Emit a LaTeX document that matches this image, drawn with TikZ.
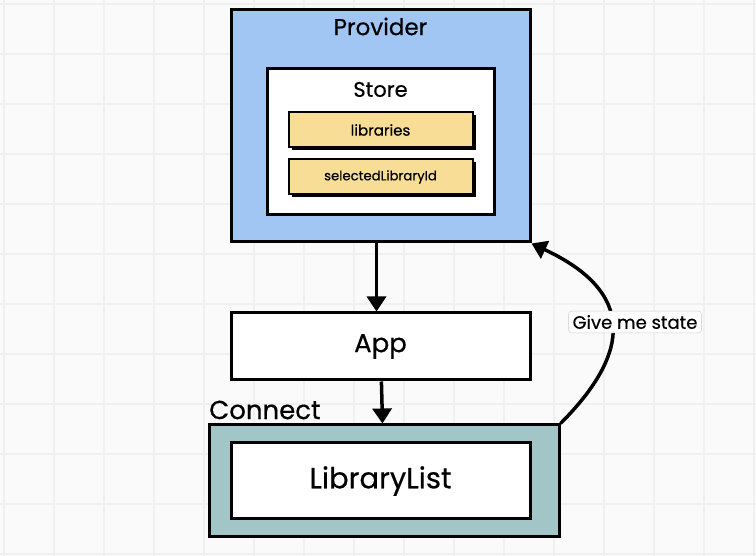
\documentclass[tikz,border=0pt]{standalone}
\usepackage{fontspec}
\setmainfont{Poppins}[UprightFeatures={FakeBold=0.5}]
\usepackage{xcolor}
\usepackage{tikz}
\usetikzlibrary{arrows.meta, positioning, shadows}

\definecolor{providerblue}{HTML}{A2C6F3}
\definecolor{connectteal}{HTML}{A2C5C7}
\definecolor{fieldyellow}{HTML}{F8DD96}
\definecolor{gridgray}{HTML}{F0F0F0}

\begin{document}
\begin{tikzpicture}[x=1pt, y=1pt]
\tikzstyle{box} = [rectangle, draw, line width=3pt, inner sep=0pt]
\tikzstyle{field} = [rectangle, draw, line width=2pt, fill=fieldyellow, minimum width=184pt, minimum height=35pt, font=\fontsize{14}{16}\selectfont, general shadow={fill=black, shadow xshift=3pt, shadow yshift=-3pt}]
\tikzstyle{title} = [inner sep=0pt, font=\fontsize{21}{24}\selectfont]
\tikzstyle{big} = [inner sep=0pt, font=\fontsize{26}{30}\selectfont]
\tikzstyle{flow} = [line width=3.5pt, -{Triangle[length=15pt, width=19pt]}]

% background grid
\fill[white!98!black] (0,0) rectangle (756,556);
\useasboundingbox (0,0) rectangle (756,556);
\foreach \g in {4,54,...,754} {
  \draw[gridgray, line width=1.2pt] (\g,0) -- (\g,556);
  \draw[gridgray, line width=1.2pt] (0,556-\g) -- (756,556-\g);
}

% provider with store
\node (provider) [box, fill=providerblue, minimum width=299pt, minimum height=232pt] at (380.5,430) {};
\node (providertitle) [title, font=\fontsize{23}{26}\selectfont, below=18pt of provider.north, anchor=center] {Provider};
\node (store) [box, fill=white, minimum width=227pt, minimum height=146pt, below=59pt of provider.north] {};
\node (storetitle) [title, below=22pt of store.north, anchor=center] {Store};
\node (libraries) [field, font=\fontsize{15}{17}\selectfont, below=44pt of store.north] {libraries};
\node (selected) [field, font=\fontsize{13.2}{15}\selectfont, below=10pt of libraries] {selectedLibraryId};

% components
\node (app) [box, fill=white, minimum width=299pt, minimum height=67pt, font=\fontsize{26}{30}\selectfont, below=68pt of provider] {App};
\node (connect) [box, fill=connectteal, minimum width=350pt, minimum height=112pt] at (384,75) {};
\node (librarylist) [box, fill=white, minimum width=299pt, minimum height=76pt, font=\fontsize{29}{33}\selectfont] at (380.5,75) {LibraryList};
\node (connecttitle) [big, anchor=west] at (209,146) {Connect};

\draw [flow] ([xshift=-4pt]provider.south) -- ([xshift=-4pt]app.north);
\draw [flow] (app) -- (connect);
\draw [flow] (connect.north east) .. controls +(45:100) and +(-25:115) .. (provider.south east);
\node (statelabel) [draw=gray!40, fill=white, rounded corners=3pt, inner sep=4pt, font=\fontsize{18}{21}\selectfont] at (635,234) {Give me state};

\end{tikzpicture}
\end{document}
